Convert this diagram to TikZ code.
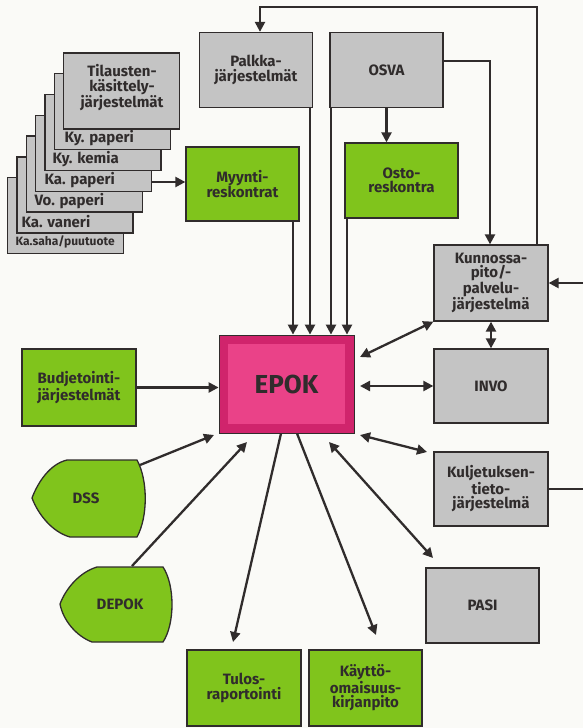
\documentclass[tikz,border=0pt]{standalone}
\usepackage{fontspec}
\setmainfont{Fira Sans}
\usepackage{tikz}
\usetikzlibrary{arrows.meta}

\definecolor{epokgreen}{RGB}{128,196,28}
\definecolor{epokgray}{RGB}{196,196,196}
\definecolor{epokouter}{RGB}{208,36,108}
\definecolor{epokinner}{RGB}{234,66,136}
\definecolor{inkline}{RGB}{48,44,44}
\definecolor{paper}{RGB}{250,250,247}

\tikzset{
  sysbox/.style={draw=inkline, line width=1.3pt, minimum width=113pt, minimum height=75pt,
    align=center, inner sep=2pt, font=\fontsize{15}{14.5}\bfseries, text=inkline},
  grn/.style={sysbox, fill=epokgreen},
  gry/.style={sysbox, fill=epokgray},
  layer/.style={draw=inkline, line width=1.3pt, fill=epokgray, minimum width=116pt,
    minimum height=76pt, anchor=north west, inner sep=0pt},
  lbl/.style={font=\fontsize{15}{14.5}\bfseries, text=inkline, align=center},
  conn/.style={draw=inkline, line width=2.3pt, -{Triangle[length=10pt,width=10pt]}},
  both/.style={draw=inkline, line width=2.3pt, {Triangle[length=10pt,width=10pt]}-{Triangle[length=10pt,width=10pt]}},
  plain/.style={draw=inkline, line width=2.3pt},
}

\begin{document}
\begin{tikzpicture}[x=1pt, y=-1pt]
  \fill[paper] (0,0) rectangle (583,728);
  \useasboundingbox (0,0) rectangle (583,728);

  % order entry systems, stacked
  \foreach \i in {0,...,6} {
    \node[layer] (lay\i) at ({7+9.33*\i}, {177-20.8*\i}) {};
  }
  \node[lbl, anchor=west, font=\fontsize{12}{12}\bfseries] at (12,242) {Ka.saha/puutuote};
  \node[lbl, anchor=west] at (18,222) {Ka. vaneri};
  \node[lbl, anchor=west] at (31,201) {Vo. paperi};
  \node[lbl, anchor=west] at (41,180) {Ka. paperi};
  \node[lbl, anchor=west] at (49,159) {Ky. kemia};
  \node[lbl, anchor=west] at (61,138) {Ky. paperi};
  \node[lbl] (tilaus) at (122,88) {Tilausten-\\käsittely-\\järjestelmät};

  % boxes
  \node[gry] (palkka) at (256,70) {Palkka-\\järjestelmät};
  \node[gry] (osva) at (386.5,70) {OSVA};
  \node[grn, minimum height=74pt] (myynti) at (242.5,184) {Myynti-\\reskontrat};
  \node[grn] (osto) at (401.5,180.5) {Osto-\\reskontra};
  \node[gry, minimum width=114pt, minimum height=76pt] (kunno) at (491,283) {Kunnossa-\\pito/-\\palvelu-\\järjestelmä};
  \node[gry, minimum width=114pt, minimum height=74pt] (invo) at (491,386) {INVO};
  \node[gry, minimum width=114pt, minimum height=74pt] (kulje) at (491,489) {Kuljetuksen-\\tieto-\\järjestelmä};
  \node[gry] (pasi) at (482.5,605.5) {PASI};
  \node[grn, minimum width=114pt, minimum height=77pt] (budje) at (79,387.5) {Budjetointi-\\järjestelmät};
  \node[grn, minimum width=114pt, minimum height=76pt] (tulos) at (244,688) {Tulos-\\raportointi};
  \node[grn, minimum height=76pt] (kaytto) at (365.5,688) {Käyttö-\\omaisuus-\\kirjanpito};

  % EPOK
  \node[draw=inkline, line width=0.8pt, fill=epokouter, minimum width=135pt, minimum height=98pt] (epok) at (286.5,384) {};
  \fill[epokinner] ([shift={(9pt,-9pt)}]epok.north west) rectangle ([shift={(-9pt,9pt)}]epok.south east);
  \node[font=\fontsize{26}{28}\bfseries, text=inkline] at (epok) {EPOK};

  % DSS and DEPOK
  \draw[fill=epokgreen, draw=inkline, line width=1.3pt] (67,460) -- (137,460)
    .. controls (148,480) and (148,517) .. (137,537) -- (70,537)
    .. controls (52,532) and (38,514) .. (32,498)
    .. controls (38,482) and (50,464) .. (67,460) -- cycle;
  \node[lbl] (dss) at (86,498) {DSS};
  \coordinate (dssout) at (140,465);
  \draw[fill=epokgreen, draw=inkline, line width=1.3pt] (97,567) -- (163,567)
    .. controls (175,585) and (175,624) .. (163,642) -- (92,642)
    .. controls (76,636) and (63,620) .. (60,604)
    .. controls (66,588) and (80,572) .. (97,567) -- cycle;
  \node[lbl] (depok) at (120,604) {DEPOK};
  \coordinate (depokout) at (132,566);

  % connectors
  \draw[conn] (lay3.east |- 0,182) -- (myynti.west |- 0,182);
  \draw[conn] (293,0 |- myynti.south) -- (293,0 |- epok.north);
  \draw[conn] (310,0 |- palkka.south) -- (310,0 |- epok.north);
  \draw[conn] (331,0 |- osva.south) -- (331,0 |- epok.north);
  \draw[conn] (347,0 |- osto.south) -- (347,0 |- epok.north);
  \draw[conn] (osva.south) -- (osva.south |- osto.north);
  \draw[conn] (osva.east |- 0,61) -| (490,0 |- kunno.north);
  \draw[conn] (537,0 |- kunno.north) |- (260,7) -- (260,0 |- palkka.north);
  \draw[conn] (583,283) -- (kunno.east |- 0,283);
  \draw[plain] (kulje.east) -- (583,0 |- kulje.east);
  \draw[both] (kunno.south) -- (invo.north);
  \draw[both] (360,357) -- (kunno.south west);
  \draw[both] (360,0 |- invo.west) -- (invo.west);
  \draw[both] (360,435) -- (427,452);
  \draw[conn] (budje.east) -- (epok.west |- budje.east);
  \draw[conn] (dssout) -- (214,435);
  \draw[conn] (depokout) -- (247,442);
  \draw[conn] (281,0 |- epok.south) -- (233,642);
  \draw[conn] (297,0 |- epok.south) -- (376,635);
  \draw[both] (329,442) -- (433,558);
\end{tikzpicture}
\end{document}
